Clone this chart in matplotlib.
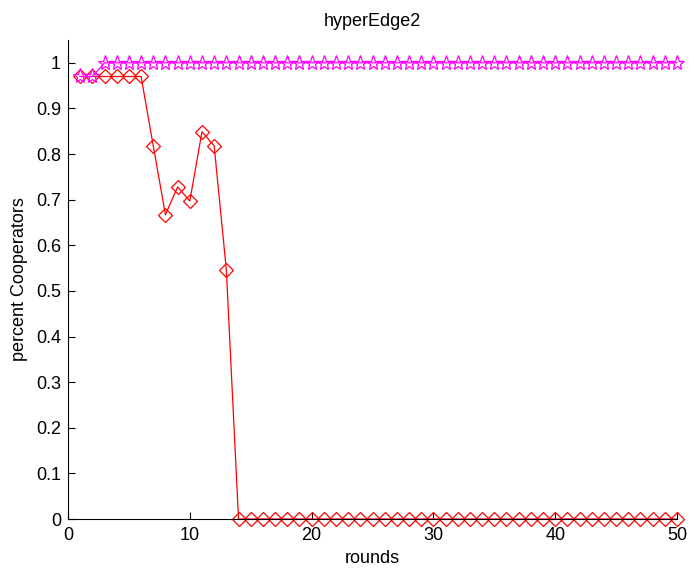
import matplotlib
matplotlib.use("Agg")
import matplotlib.pyplot as plt
import numpy as np

plt.rcParams['font.family'] = ['Liberation Sans', 'DejaVu Sans']

title = "hyperEdge2"
xlabel = "rounds"
ylabel = "percent Cooperators"

rounds = list(range(1, 51))
red_vals = [0.97, 0.97, 0.97, 0.97, 0.97, 0.97, 0.818, 0.667, 0.728, 0.697,
            0.849, 0.818, 0.546] + [0.0] * 37
magenta_vals = [0.97, 0.97] + [1.0] * 48

yticks = [0, 0.1, 0.2, 0.3, 0.4, 0.5, 0.6, 0.7, 0.8, 0.9, 1]
ytick_labels = ["0", "0.1", "0.2", "0.3", "0.4", "0.5", "0.6", "0.7", "0.8", "0.9", "1"]
xticks = [0, 10, 20, 30, 40, 50]

fig = plt.figure(figsize=(6.89, 5.70), dpi=100)
ax = fig.add_axes([68/689, 51/570, 609/689, 479/570])

ax.plot(rounds, red_vals, color='#ff0000', lw=0.9, marker='D', markersize=7.5,
        markerfacecolor='none', markeredgecolor='#ff0000', markeredgewidth=0.9)
ax.plot(rounds, magenta_vals, color='#ff00ff', lw=0.9, marker='*', markersize=11,
        markerfacecolor='none', markeredgecolor='#ff00ff', markeredgewidth=0.9)

ax.set_xlim(0, 50)
ax.set_ylim(0, 1.05)
ax.set_xticks(xticks)
ax.set_yticks(yticks)
ax.set_yticklabels(ytick_labels)
for s in ['top', 'right']:
    ax.spines[s].set_visible(False)
ax.spines['left'].set_linewidth(0.8)
ax.spines['bottom'].set_linewidth(0.8)
ax.tick_params(direction='in', length=5, width=0.8, labelsize=13)
ax.tick_params(axis='x', pad=6)
ax.tick_params(axis='y', pad=5)

ax.set_title(title, fontsize=13, pad=10)
ax.set_xlabel(xlabel, fontsize=13, labelpad=4)
ax.set_ylabel(ylabel, fontsize=13, labelpad=6)

for line in ax.lines:
    line.set_clip_on(False)

fig.savefig("out.png", dpi=100)
